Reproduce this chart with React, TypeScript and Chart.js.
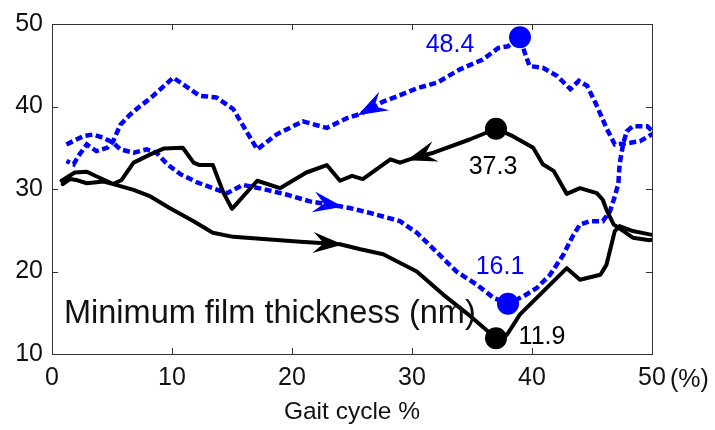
import React, { useEffect, useRef } from "react";
import { Chart, registerables } from "chart.js";

Chart.register(...registerables);

const FONT = "'Liberation Sans', Arial, Helvetica, sans-serif";

const xTicks = [0, 10, 20, 30, 40, 50];
const yTicks = [10, 20, 30, 40, 50];
const xTitle = "Gait cycle %";
const xUnit = "(%)";
const panelLabel = "Minimum film thickness (nm)";

// Black (solid) loop, in drawing order
const blackX = [
  0.8, 1.9, 2.9, 3.6, 5.1, 6.8, 8.2, 9.8, 11.8, 13.4, 15.1, 17.9, 20.7, 24.0, 25.7, 27.6, 30.4, 32.6, 34.6, 37.0,
  37.9, 39.0, 42.9, 44.0, 45.7, 46.2, 46.9, 47.3, 48.4, 49.8, 51.0, 49.8, 48.4, 46.8, 46.2, 45.9, 45.4, 44.0, 42.9,
  41.8, 40.9, 40.1, 38.4, 37.0, 36.5, 34.8, 31.8, 30.7, 29.8, 29.0, 28.2, 25.9, 25.0, 24.0, 22.9, 21.2, 19.0, 17.1,
  15.0, 14.3, 13.4, 12.3, 11.8, 10.9, 9.3, 8.2, 6.8, 5.8, 5.1, 4.3, 2.9, 2.0, 1.5, 0.9,
];
const blackY = [
  31.0, 32.0, 32.1, 31.6, 30.6, 29.9, 29.1, 27.7, 26.1, 24.7, 24.2, 23.9, 23.6, 23.3, 22.7, 22.1, 20.0, 17.2, 14.9, 11.9,
  12.3, 14.8, 20.4, 19.0, 19.6, 20.8, 24.9, 25.5, 24.9, 24.5, 24.2, 23.8, 24.1, 25.7, 27.5, 28.7, 29.5, 30.1, 29.4,
  32.2, 33.0, 35.0, 36.4, 37.3, 37.0, 36.0, 34.4, 34.0, 33.6, 33.2, 33.6, 31.2, 31.6, 31.0, 32.9, 32.0, 30.1, 31.0,
  27.6, 29.5, 32.9, 32.9, 33.2, 35.0, 34.9, 34.2, 33.2, 31.1, 30.6, 30.9, 30.7, 31.1, 31.2, 30.6,
];

// Blue (dashed) loop, in drawing order
const blueX = [
  1.2, 2.6, 3.4, 4.3, 5.1, 5.7, 6.8, 7.9, 8.7, 9.6, 10.7, 12.1, 13.4, 14.6, 15.9, 17.9, 19.6, 21.5, 24.0, 24.8,
  26.5, 29.0, 30.4, 32.1, 33.7, 35.4, 36.8, 38.0, 39.3, 40.4, 41.5, 42.6, 43.4, 44.0, 44.8, 45.9, 46.5, 46.9, 47.2,
  47.3, 47.6, 47.9, 48.4, 49.6, 50.2, 49.0, 48.2, 47.6, 46.9, 46.2, 45.4, 44.6, 43.9, 43.2, 42.1, 40.9, 39.8, 39.4,
  39.0, 38.0, 37.2, 35.9, 34.0, 32.1, 30.4, 28.7, 27.6, 25.7, 24.6, 22.9, 20.9, 18.7, 17.1, 16.2, 15.1, 13.7, 12.3,
  10.1, 8.2, 7.3, 6.5, 5.7, 5.1, 4.6, 3.7, 2.9, 2.3, 1.8, 1.2,
];
const blueY = [
  35.4, 36.4, 36.6, 36.2, 35.6, 34.8, 34.4, 34.8, 34.4, 33.0, 31.8, 30.8, 30.1, 29.5, 30.5, 29.9, 29.3, 28.5, 27.9, 27.7,
  27.1, 26.1, 24.7, 22.3, 20.0, 18.4, 16.8, 16.1, 17.0, 18.0, 19.6, 22.0, 24.3, 25.7, 26.1, 26.1, 27.3, 29.1, 30.7,
  33.0, 35.5, 37.0, 37.6, 37.6, 36.8, 35.8, 35.6, 35.5, 35.4, 37.4, 40.1, 42.5, 43.1, 42.1, 43.7, 44.7, 44.9, 46.5,
  48.4, 47.3, 47.1, 45.7, 44.5, 42.9, 42.2, 41.2, 40.6, 39.1, 38.6, 37.4, 38.2, 36.6, 34.8, 37.0, 39.7, 41.1, 41.3,
  43.5, 41.0, 40.0, 39.0, 37.8, 35.8, 35.0, 34.6, 35.4, 34.2, 33.0, 33.4,
];

// direction arrows sit at these points of each loop
const blackArrowAt = [13, 48];
const blueArrowAt = [18, 67];

// marked extremes
const blackMarkX = [37, 37];
const blackMarkY = [37.3, 11.9];
const blueMarkX = [39, 38];
const blueMarkY = [48.4, 16.1];

const BLUE = "#0000ff";
const BLACK = "#000000";

const toPts = (xs: number[], ys: number[]) => xs.map((x, i) => ({ x, y: ys[i] }));

const decorPlugin = {
  id: "decor",
  beforeDatasetsDraw(chart: any) {
    const { ctx, chartArea, scales } = chart;
    const { left, right, top, bottom } = chartArea;
    ctx.save();
    ctx.strokeStyle = "#333";
    ctx.lineWidth = 1;
    ctx.strokeRect(Math.round(left) + 0.5, Math.round(top) + 0.5, Math.round(right - left), Math.round(bottom - top));
    const T = 6;
    ctx.beginPath();
    for (const v of xTicks) {
      const px = Math.round(scales.x.getPixelForValue(v)) + 0.5;
      ctx.moveTo(px, bottom);
      ctx.lineTo(px, bottom - T);
      ctx.moveTo(px, top);
      ctx.lineTo(px, top + T);
    }
    for (const v of yTicks) {
      const py = Math.round(scales.y.getPixelForValue(v)) + 0.5;
      ctx.moveTo(left, py);
      ctx.lineTo(left + T, py);
      ctx.moveTo(right, py);
      ctx.lineTo(right - T, py);
    }
    ctx.stroke();
    ctx.restore();
  },
  afterDatasetsDraw(chart: any) {
    const { ctx, chartArea, scales } = chart;
    const { left, bottom } = chartArea;
    const xs = scales.x;
    const ys = scales.y;
    ctx.save();

    // arrows
    const drawArrows = (X: number[], Y: number[], idx: number[], color: string) => {
      for (const i of idx) {
        const x0 = xs.getPixelForValue(X[i - 1]);
        const y0 = ys.getPixelForValue(Y[i - 1]);
        const x1 = xs.getPixelForValue(X[i]);
        const y1 = ys.getPixelForValue(Y[i]);
        const a = Math.atan2(y1 - y0, x1 - x0);
        const L = 27;
        const W = 10.5;
        ctx.save();
        ctx.translate(x1, y1);
        ctx.rotate(a);
        ctx.fillStyle = color;
        ctx.beginPath();
        ctx.moveTo(3, 0);
        ctx.lineTo(-L, -W);
        ctx.lineTo(-L * 0.6, 0);
        ctx.lineTo(-L, W);
        ctx.closePath();
        ctx.fill();
        ctx.restore();
      }
    };
    drawArrows(blueX, blueY, blueArrowAt, BLUE);
    drawArrows(blackX, blackY, blackArrowAt, BLACK);

    // extreme value labels
    ctx.font = `25px ${FONT}`;
    ctx.textAlign = "center";
    ctx.textBaseline = "middle";
    const blueOff = [
      [-70, 8],
      [-8, -37],
    ];
    const blackOff = [
      [-3, 38],
      [46, -1],
    ];
    ctx.fillStyle = BLUE;
    blueMarkX.forEach((v, i) => {
      ctx.fillText(blueMarkY[i].toFixed(1), xs.getPixelForValue(v) + blueOff[i][0], ys.getPixelForValue(blueMarkY[i]) + blueOff[i][1]);
    });
    ctx.fillStyle = BLACK;
    blackMarkX.forEach((v, i) => {
      ctx.fillText(blackMarkY[i].toFixed(1), xs.getPixelForValue(v) + blackOff[i][0], ys.getPixelForValue(blackMarkY[i]) + blackOff[i][1]);
    });

    // panel label
    ctx.font = `32.5px ${FONT}`;
    ctx.textAlign = "left";
    ctx.textBaseline = "alphabetic";
    ctx.fillStyle = "#111";
    ctx.fillText(panelLabel, left + 12, bottom - 31);

    // unit after last x tick
    ctx.font = `25px ${FONT}`;
    ctx.fillText(xUnit, xs.getPixelForValue(xTicks[xTicks.length - 1]) + 18, bottom + 33);
    ctx.restore();
  },
};

export default function App() {
  const ref = useRef<HTMLCanvasElement | null>(null);
  useEffect(() => {
    document.body.style.margin = "0";
    const canvas = ref.current;
    if (!canvas) return;
    Chart.defaults.font.family = FONT;
    Chart.defaults.color = "#111";
    const chart = new Chart(canvas, {
      type: "line",
      data: {
        datasets: [
          {
            type: "scatter",
            data: toPts(blackMarkX, blackMarkY),
            pointRadius: 11,
            pointHoverRadius: 11,
            backgroundColor: BLACK,
            borderWidth: 0,
            showLine: false,
            order: 0,
          } as any,
          {
            type: "scatter",
            data: toPts(blueMarkX, blueMarkY),
            pointRadius: 11,
            pointHoverRadius: 11,
            backgroundColor: BLUE,
            borderWidth: 0,
            showLine: false,
            order: 0,
          } as any,
          {
            data: toPts(blackX, blackY),
            borderColor: BLACK,
            borderWidth: 4,
            pointRadius: 0,
            tension: 0,
            fill: false,
            borderJoinStyle: "round",
            borderCapStyle: "round",
            order: 1,
          },
          {
            data: toPts(blueX, blueY),
            borderColor: BLUE,
            borderWidth: 4.5,
            borderDash: [7, 3.5],
            pointRadius: 0,
            tension: 0,
            fill: false,
            borderJoinStyle: "miter",
            borderCapStyle: "butt",
            order: 2,
          },
        ],
      },
      options: {
        responsive: false,
        animation: false,
        devicePixelRatio: 1,
        layout: { padding: { top: 17, right: 63, left: 0, bottom: 0 } },
        plugins: { legend: { display: false }, tooltip: { enabled: false } },
        events: [],
        scales: {
          x: {
            type: "linear",
            min: 0,
            max: 50,
            afterBuildTicks: (s: any) => {
              s.ticks = xTicks.map((v) => ({ value: v }));
            },
            grid: { display: false, drawTicks: false },
            border: { display: false },
            ticks: { font: { size: 25, family: FONT }, color: "#111", padding: 9, maxRotation: 0, autoSkip: false },
            title: {
              display: true,
              text: xTitle,
              font: { size: 24.5, family: FONT },
              color: "#111",
              padding: { top: 0, bottom: 3 },
            },
            afterFit: (s: any) => {
              s.height = 76;
            },
          },
          y: {
            type: "linear",
            min: 10,
            max: 50,
            afterBuildTicks: (s: any) => {
              s.ticks = yTicks.map((v) => ({ value: v }));
            },
            grid: { display: false, drawTicks: false },
            border: { display: false },
            ticks: { font: { size: 25, family: FONT }, color: "#111", padding: 9 },
            afterFit: (s: any) => {
              s.width = 52;
            },
          },
        },
      } as any,
      plugins: [decorPlugin],
    });
    return () => chart.destroy();
  }, []);
  return (
    <div style={{ width: 715, height: 430, background: "#fff" }}>
      <canvas ref={ref} width={715} height={430} style={{ display: "block" }} />
    </div>
  );
}
